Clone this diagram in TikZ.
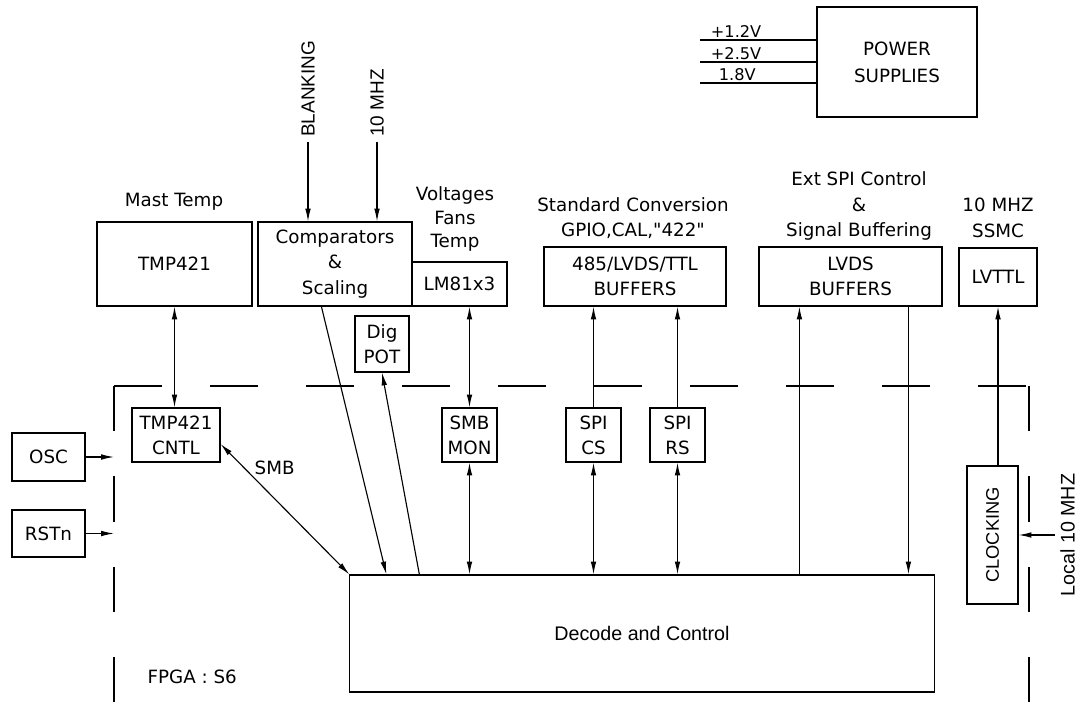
\documentclass[tikz,border=0pt]{standalone}
\usepackage{fontspec}
\setmainfont{DejaVu Sans}
\newfontfamily\plaindv{DejaVu Sans}
\newfontfamily\helvfont{Liberation Sans}
\usetikzlibrary{arrows.meta, calc}

\begin{document}
\begin{tikzpicture}[
    x=0.025cm, y=-0.025cm,
    >={Latex[length=3.2mm, width=1.4mm]},
    line width=0.8pt,
    every node/.style={font=\fontsize{13}{18}\selectfont},
    box/.style={draw, line width=0.8pt, align=center, inner sep=0pt},
    lbl/.style={align=center, inner sep=0pt},
    sig/.style={font=\helvfont\fontsize{13.5}{16}\selectfont},
    pwrlbl/.style={font=\fontsize{11.5}{14}\selectfont, inner sep=0pt},
  ]

  \useasboundingbox (0,0) rectangle (1089,702);

  % --- FPGA boundary ---
  \coordinate (fpga-nw) at (114,386);
  \coordinate (fpga-ne) at (1029,386);
  \coordinate (fpga-sw) at (114,702);
  \coordinate (fpga-se) at (1029,702);
  \draw[dash pattern=on 1.2cm off 1.2cm] (fpga-nw) -- (fpga-ne);
  \draw[dash pattern=on 1.13cm off 1.13cm] (fpga-nw) -- (fpga-sw);
  \draw[dash pattern=on 1.13cm off 1.13cm] (fpga-ne) -- (fpga-se);
  \node[lbl, anchor=west] (fpga-lbl) at (147,677) {FPGA : S6};

  % --- Power supplies ---
  \node[box, minimum width=4cm, minimum height=2.75cm,
        font=\fontsize{13}{19}\selectfont] (PWR) at (897,62) {POWER\\SUPPLIES};
  \coordinate (v12) at (700,40);
  \coordinate (v25) at (700,62);
  \coordinate (v18) at (700,83);
  \draw (v12) -- (v12 -| PWR.west)
    node[pwrlbl, pos=0.31, above=1.5pt] (v12-lbl) {+1.2V};
  \draw (v25) -- (v25 -| PWR.west)
    node[pwrlbl, pos=0.31, above=1.5pt] (v25-lbl) {+2.5V};
  \draw (v18) -- (v18 -| PWR.west)
    node[pwrlbl, pos=0.32, above=1.5pt] (v18-lbl) {1.8V};

  % --- Outside boxes (top row) ---
  \node[lbl] (mast-lbl) at (174,202) {Mast Temp};
  \node[box, minimum width=3.875cm, minimum height=2.1cm] (TMP) at (174.5,264) {TMP421};
  \node[box, minimum width=3.85cm, minimum height=2.1cm] (CMP) at (335,264)
    {Comparators\\\&\\Scaling};
  \node[lbl, font=\fontsize{13}{17}\selectfont] (volt-lbl) at (455,219) {Voltages\\Fans\\Temp};
  \node[box, minimum width=2.375cm, minimum height=1.1cm] (LM81) at (459.5,284) {LM81x3};
  \node[box, minimum width=1.35cm, minimum height=1.4cm] (DIG) at (382,344) {Dig\\POT};
  \node[lbl] (std-lbl) at (633,218)
    {Standard Conversion\\{\plaindv GPIO,CAL,"422"}};
  \node[box, minimum width=4.55cm, minimum height=1.475cm] (BUF) at (635,276.5)
    {485/LVDS/TTL\\BUFFERS};
  \node[lbl] (ext-lbl) at (859,206) {Ext SPI Control\\\&\\Signal Buffering};
  \node[box, minimum width=4.575cm, minimum height=1.475cm] (LVDS) at (850.5,276.5)
    {LVDS\\BUFFERS};
  \node[lbl] (ssmc-lbl) at (998,218) {10 MHZ\\SSMC};
  \node[box, minimum width=1.95cm, minimum height=1.45cm] (LVTTL) at (998,277) {LVTTL};

  % --- Inputs to the comparators ---
  \coordinate (blank) at (308,142);
  \coordinate (tenmhz) at (377,142);
  \draw[->] (blank) node[sig, rotate=90, anchor=west] (blank-lbl) {BLANKING}
    -- (blank |- CMP.north);
  \draw[->] (tenmhz) node[sig, rotate=90, anchor=west] (tenmhz-lbl) {10 MHZ}
    -- (tenmhz |- CMP.north);

  % --- Left side inputs ---
  \node[box, minimum width=1.825cm, minimum height=1.2cm] (OSC) at (48.5,457) {OSC};
  \node[box, minimum width=1.825cm, minimum height=1.175cm] (RST) at (48.5,533.5) {RSTn};
  \draw[->] (OSC.east) -- (OSC.east -| fpga-nw);
  \draw[->] (RST.east) -- (RST.east -| fpga-nw);

  % --- Inside the FPGA ---
  \node[box, minimum width=2.2cm, minimum height=1.35cm] (CNTL) at (176,435) {TMP421\\CNTL};
  \node[box, minimum width=1.375cm, minimum height=1.35cm] (SMBMON) at (469.5,435) {SMB\\MON};
  \node[box, minimum width=1.375cm, minimum height=1.35cm] (SPICS) at (593.5,435) {SPI\\CS};
  \node[box, minimum width=1.375cm, minimum height=1.35cm] (SPIRS) at (677.5,435) {SPI\\RS};
  \node[box, minimum width=14.6cm, minimum height=2.925cm,
        font=\helvfont\fontsize{14}{18}\selectfont] (DEC) at (642,633.5) {Decode and Control};
  \node[box, rotate=90, minimum width=3.45cm, minimum height=1.275cm,
        font=\helvfont\fontsize{13}{16}\selectfont] (CLK) at (992.5,535) {CLOCKING};

  % --- Connectors ---
  \draw[<->] (TMP.south) -- (TMP.south |- CNTL.north);
  \draw[<->] ($(CNTL.east)+(0,9)$) -- (DEC.north west)
    node[pos=0.25, anchor=south west, inner sep=1pt] (smb-lbl) {SMB};
  \draw[->] ($(CMP.south west)+(64,0)$) -- ($(DEC.north west)+(37,0)$);
  \draw[->] ($(DEC.north west)+(70,0)$) -- (DIG.south);
  \draw[<->] (SMBMON.north) -- (SMBMON.north |- LM81.south);
  \draw[<->] (SMBMON.south) -- (SMBMON.south |- DEC.north);
  \draw[->] (SPICS.north) -- (SPICS.north |- BUF.south);
  \draw[<->] (SPICS.south) -- (SPICS.south |- DEC.north);
  \draw[->] (SPIRS.north) -- (SPIRS.north |- BUF.south);
  \draw[<->] (SPIRS.south) -- (SPIRS.south |- DEC.north);

  \coordinate (lvds-in) at ($(LVDS.south west)+(41,0)$);
  \coordinate (lvds-out) at ($(LVDS.south west)+(150,0)$);
  \draw[->] (lvds-in |- DEC.north) -- (lvds-in);
  \draw[->] (lvds-out) -- (lvds-out |- DEC.north);

  \draw[->] (LVTTL.south |- CLK.east) -- (LVTTL.south);
  \coordinate (loc) at (1055,535);
  \draw[->] (loc) node[sig, font=\helvfont\fontsize{14}{16}\selectfont,
                       rotate=90, anchor=north] (loc-lbl) {Local 10 MHZ}
    -- (CLK.south);

\end{tikzpicture}
\end{document}
